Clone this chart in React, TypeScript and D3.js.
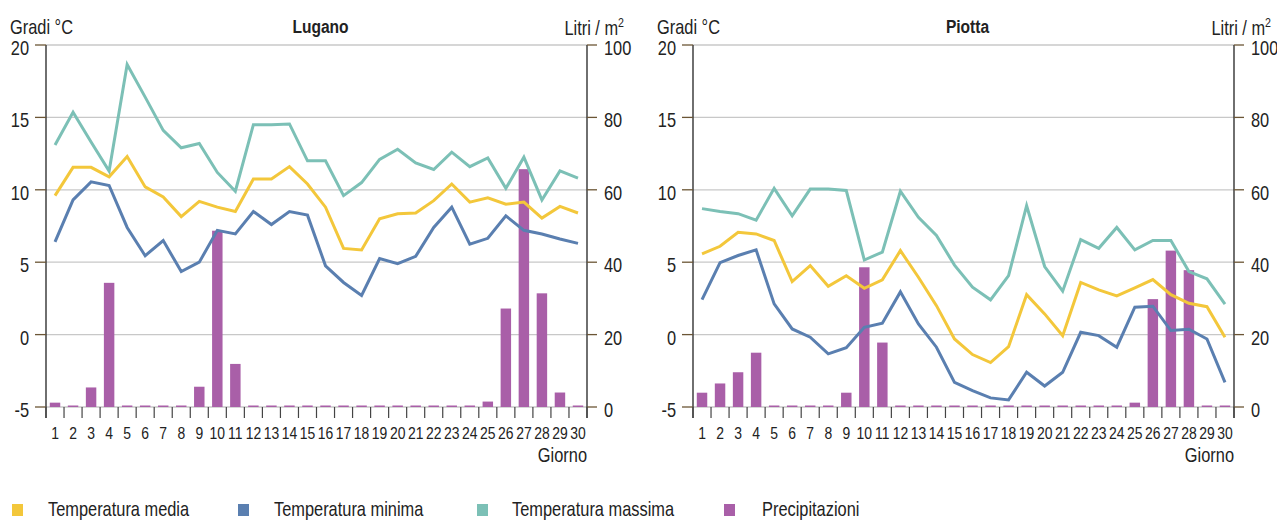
import React, { useEffect, useRef } from 'react';
import * as d3 from 'd3';

const days = d3.range(1, 31);

const luganoMedia = [9.6, 11.55, 11.55, 10.9, 12.3, 10.2, 9.5, 8.15, 9.2, 8.8, 8.5, 10.75, 10.75, 11.6, 10.4, 8.8, 5.95, 5.85, 8.0, 8.35, 8.4, 9.25, 10.4, 9.15, 9.45, 9.0, 9.15, 8.05, 8.85, 8.4];
const luganoMinima = [6.4, 9.3, 10.55, 10.3, 7.4, 5.45, 6.5, 4.35, 5.0, 7.2, 6.95, 8.5, 7.6, 8.5, 8.25, 4.75, 3.6, 2.7, 5.25, 4.9, 5.4, 7.4, 8.8, 6.25, 6.65, 8.2, 7.2, 6.95, 6.6, 6.3];
const luganoMassima = [13.1, 15.35, 13.3, 11.3, 18.65, 16.4, 14.1, 12.9, 13.2, 11.2, 9.9, 14.5, 14.5, 14.55, 12.0, 12.0, 9.6, 10.5, 12.1, 12.8, 11.85, 11.4, 12.6, 11.6, 12.2, 10.1, 12.25, 9.3, 11.3, 10.8];
const luganoPrec = [1.2, 0, 5.4, 34.3, 0, 0, 0, 0, 5.6, 48.7, 11.9, 0, 0, 0, 0, 0, 0, 0, 0, 0, 0, 0, 0, 0, 1.5, 27.2, 65.7, 31.4, 4.0, 0];

const piottaMedia = [5.57, 6.1, 7.07, 6.95, 6.5, 3.66, 4.77, 3.34, 4.07, 3.2, 3.78, 5.8, 3.96, 2.0, -0.3, -1.38, -1.93, -0.83, 2.76, 1.43, -0.07, 3.6, 3.09, 2.67, 3.22, 3.8, 2.76, 2.16, 1.93, -0.18];
const piottaMinima = [2.42, 4.97, 5.46, 5.85, 2.12, 0.39, -0.18, -1.33, -0.9, 0.5, 0.78, 2.95, 0.74, -0.87, -3.3, -3.87, -4.37, -4.51, -2.6, -3.55, -2.6, 0.16, -0.07, -0.87, 1.89, 1.96, 0.28, 0.37, -0.3, -3.3];
const piottaMassima = [8.7, 8.5, 8.35, 7.9, 10.1, 8.2, 10.05, 10.05, 9.95, 5.15, 5.7, 9.9, 8.1, 6.85, 4.8, 3.27, 2.4, 4.07, 8.9, 4.7, 3.0, 6.56, 5.96, 7.4, 5.85, 6.5, 6.5, 4.35, 3.85, 2.1];
const piottaPrec = [3.95, 6.5, 9.6, 15.0, 0, 0, 0, 0, 3.95, 38.6, 17.8, 0, 0, 0, 0, 0, 0, 0, 0, 0, 0, 0, 0, 0, 1.2, 29.8, 43.2, 37.8, 0, 0];

const tempTicks = [-5, 0, 5, 10, 15, 20];
const precTicks = [0, 20, 40, 60, 80, 100];

const legendItems = [
  { label: 'Temperatura media', color: '#F3C73B' },
  { label: 'Temperatura minima', color: '#5A7FB0' },
  { label: 'Temperatura massima', color: '#7CC0B6' },
  { label: 'Precipitazioni', color: '#A95FA8' },
];

const FONT = "'Liberation Sans', Arial, sans-serif";
const NARROW = 0.82; // no condensed font installed, squeeze horizontally

interface Panel {
  title: string;
  left: number;
  media: number[];
  minima: number[];
  massima: number[];
  prec: number[];
}

const panels: Panel[] = [
  { title: 'Lugano', left: 46, media: luganoMedia, minima: luganoMinima, massima: luganoMassima, prec: luganoPrec },
  { title: 'Piotta', left: 693, media: piottaMedia, minima: piottaMinima, massima: piottaMassima, prec: piottaPrec },
];

type Sel = d3.Selection<SVGGElement | SVGSVGElement, unknown, null, undefined>;

const addText = (parent: Sel, x: number, y: number, s: string, size: number, anchor = 'start', weight = 'normal') =>
  parent.append('text')
    .attr('transform', `translate(${x},${y}) scale(${NARROW},1)`)
    .attr('text-anchor', anchor)
    .attr('font-size', size)
    .attr('font-weight', weight)
    .attr('font-family', FONT)
    .attr('fill', '#222')
    .text(s);

const App: React.FC = () => {
  const svgRef = useRef<SVGSVGElement>(null);

  useEffect(() => {
    if (!svgRef.current) return;
    const svg = d3.select(svgRef.current) as unknown as Sel;
    svg.selectAll('*').remove();

    const plotW = 541;
    const top = 45;
    const bottom = 407;

    panels.forEach(p => {
      const g = svg.append('g') as unknown as Sel;
      const x = d3.scaleBand<number>().domain(days).range([p.left, p.left + plotW]).paddingInner(0.42).paddingOuter(0.21);
      const xb = d3.scaleBand<number>().domain(days).range([p.left, p.left + plotW]);
      const yT = d3.scaleLinear().domain([-5, 20]).range([bottom, top]);
      const yP = d3.scaleLinear().domain([0, 100]).range([bottom, top]);
      const right = p.left + plotW;

      // grid
      g.selectAll('.grid')
        .data(tempTicks)
        .enter().append('line')
        .attr('x1', p.left).attr('x2', right)
        .attr('y1', d => yT(d)).attr('y2', d => yT(d))
        .attr('stroke', '#C8C8C8').attr('stroke-width', 1.3);

      // bars
      g.selectAll('.bar')
        .data(p.prec)
        .enter().append('rect')
        .attr('x', (_, i) => x(days[i])!)
        .attr('width', x.bandwidth())
        .attr('y', d => Math.min(yP(d), bottom - 1.5))
        .attr('height', d => Math.max(bottom - yP(d), 1.5))
        .attr('fill', '#A95FA8');

      // lines
      const line = d3.line<number>()
        .x((_, i) => xb(days[i])! + xb.bandwidth() / 2)
        .y(d => yT(d));
      [[p.massima, '#7CC0B6'], [p.media, '#F3C73B'], [p.minima, '#5A7FB0']].forEach(([vals, color]) => {
        g.append('path')
          .attr('d', line(vals as number[]))
          .attr('fill', 'none')
          .attr('stroke', color as string)
          .attr('stroke-width', 3)
          .attr('stroke-linejoin', 'miter');
      });

      // axes
      g.append('line').attr('x1', p.left).attr('x2', p.left).attr('y1', top).attr('y2', bottom + 11).attr('stroke', '#222').attr('stroke-width', 1.3);
      g.append('line').attr('x1', right).attr('x2', right).attr('y1', top).attr('y2', bottom + 11).attr('stroke', '#222').attr('stroke-width', 1.3);

      g.selectAll('.ltick')
        .data(tempTicks)
        .enter().append('line')
        .attr('x1', p.left - 11).attr('x2', p.left)
        .attr('y1', d => yT(d)).attr('y2', d => yT(d))
        .attr('stroke', '#6B5535').attr('stroke-width', 1.3);
      tempTicks.forEach(d => addText(g, p.left - 17, yT(d) + 10, String(d), 20, 'end'));

      g.selectAll('.rtick')
        .data(precTicks)
        .enter().append('line')
        .attr('x1', right).attr('x2', right + 10)
        .attr('y1', d => yP(d)).attr('y2', d => yP(d))
        .attr('stroke', '#6B5535').attr('stroke-width', 1.3);
      precTicks.forEach(d => addText(g, right + 17, yP(d) + 10, String(d), 20));

      // x ticks at band edges
      g.selectAll('.xtick')
        .data(d3.range(0, 31))
        .enter().append('line')
        .attr('x1', i => p.left + i * xb.step()).attr('x2', i => p.left + i * xb.step())
        .attr('y1', bottom).attr('y2', bottom + 11)
        .attr('stroke', '#444').attr('stroke-width', 1.2);
      days.forEach(d => addText(g, xb(d)! + xb.bandwidth() / 2, 439, String(d), 17, 'middle'));

      addText(g, right, 462, 'Giorno', 20, 'end');

      // axis titles
      addText(g, p.left - 36, 34, 'Gradi °C', 20);
      const lt = g.append('text')
        .attr('transform', `translate(${right + 37},35) scale(${NARROW},1)`)
        .attr('text-anchor', 'end')
        .attr('font-size', 20).attr('font-family', FONT).attr('fill', '#222');
      lt.append('tspan').text('Litri / m');
      lt.append('tspan').attr('font-size', 13).attr('dy', -8).text('2');

      addText(g, p.left + plotW / 2 + 4, 33, p.title, 19, 'middle', 'bold');
    });

    // legend
    const legendX = [12, 238, 477, 724];
    const textX = [48, 274, 512, 762];
    legendItems.forEach((item, i) => {
      svg.append('rect')
        .attr('x', legendX[i]).attr('y', 504)
        .attr('width', 11).attr('height', 12)
        .attr('fill', item.color);
      addText(svg, textX[i], 516, item.label, 20);
    });
  }, []);

  return (
    <div style={{ position: 'absolute', left: 0, top: 0 }}>
      <svg ref={svgRef} width={1277} height={521} style={{ display: 'block', background: '#fff' }}></svg>
    </div>
  );
};

export default App;
